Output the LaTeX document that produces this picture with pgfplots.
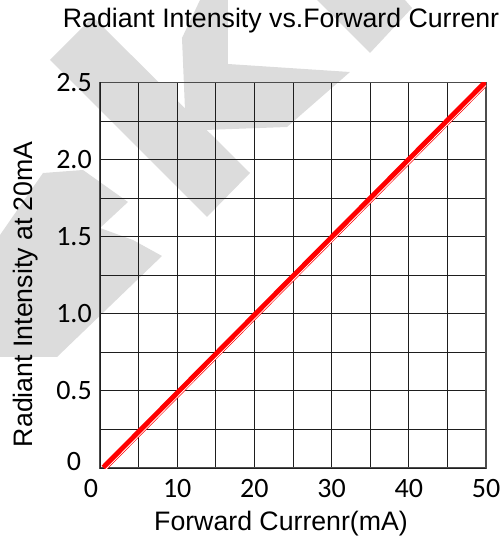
\documentclass[border=0pt]{standalone}
\usepackage{fontspec}
\setmainfont{Liberation Sans}
\newfontfamily\carlito{Carlito}
\usepackage{pgfplots}
\pgfplotsset{compat=1.18}
\definecolor{wm}{RGB}{220,220,220}
\definecolor{gridc}{RGB}{30,30,30}
\begin{document}
\begin{tikzpicture}
% watermark (decoration, page coordinates in px: x right, y down)
\begin{scope}[x=1bp,y=-1bp,shift={(-100bp,468bp)}]
\fill[wm] (50,60) -- (93,17) -- (250,173) -- (207,217) -- cycle;
\fill[wm] (158,83) -- (177,83) -- (177,102) -- cycle;
\fill[wm] (182,38) -- (200,0) -- (228,0) -- (228,64) -- (350,72) -- (287,127) -- (205,130) -- (185,110) -- cycle;
\fill[wm] (317,0) -- (370,53) -- (412,8) -- (405,0) -- cycle;
\fill[wm] (0,235) -- (43,173) -- (83,170) -- (128,202) -- (100,228) -- (133,240) -- (162,256) -- (57,357) -- (0,357) -- cycle;
\end{scope}
\begin{axis}[
  at={(0,0)}, anchor=south west,
  scale only axis, width=386bp, height=385.5bp,
  xmin=0, xmax=50, ymin=0, ymax=2.5,
  xtick={10,20,30,40,50}, xticklabels={10,20,30,40,50},
  ytick={0.5,1,1.5,2,2.5}, yticklabels={0.5,1.0,1.5,2.0,2.5},
  extra x ticks={0}, extra x tick labels={0},
  extra x tick style={xticklabel style={xshift=-9bp}},
  extra y ticks={0}, extra y tick labels={0},
  extra y tick style={yticklabel style={yshift=6bp}},
  minor xtick={5,15,25,35,45},
  minor ytick={0.25,0.75,1.25,1.75,2.25},
  grid=both,
  major grid style={gridc, line width=0.9bp},
  minor grid style={gridc, line width=0.9bp},
  major tick length=0pt, minor tick length=0pt,
  axis line style={black!70, line width=1.1bp},
  xticklabel style={font=\carlito\fontsize{28bp}{30bp}\selectfont, anchor=center, yshift=-21bp},
  yticklabel style={font=\carlito\fontsize{28bp}{30bp}\selectfont, anchor=center, xshift=-26bp},
  title={Radiant Intensity vs.Forward Currenr},
  title style={at={(axis description cs:0.469,1.128)}, anchor=base, font=\fontsize{26.7bp}{30bp}\selectfont},
  xlabel={Forward Currenr(mA)},
  xlabel style={at={(axis description cs:0.469,-0.163)}, anchor=base, font=\fontsize{26.7bp}{30bp}\selectfont},
  ylabel={Radiant Intensity at 20mA},
  ylabel style={at={(axis description cs:-0.174,0.451)}, anchor=base, font=\fontsize{26.7bp}{30bp}\selectfont},
]
\addplot[red, line width=6.5bp] coordinates {(0.5,0) (50,2.5)};
\addplot[white, line width=0.8bp, xshift=1.55bp, yshift=-1.55bp] coordinates {(0.5,0) (50,2.5)};
\end{axis}
\pgfresetboundingbox
\path (-100bp,-71bp) rectangle (402bp,468bp);
\end{tikzpicture}
\end{document}
